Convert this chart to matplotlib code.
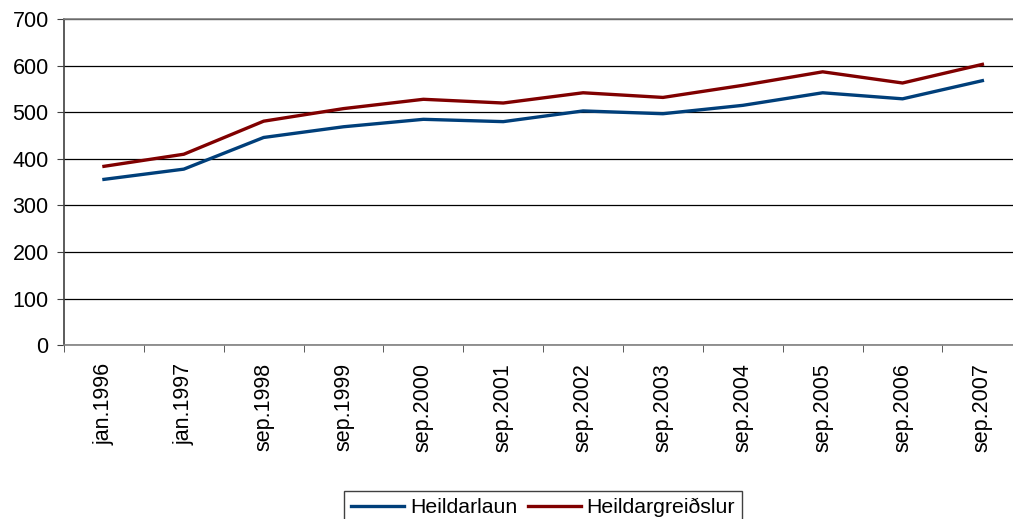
import matplotlib.pyplot as plt

labels = ["jan.1996", "jan.1997", "sep.1998", "sep.1999", "sep.2000", "sep.2001",
          "sep.2002", "sep.2003", "sep.2004", "sep.2005", "sep.2006", "sep.2007"]
heildarlaun = [356, 378, 446, 469, 485, 480, 503, 497, 515, 542, 529, 568]
heildargreidslur = [384, 410, 481, 508, 528, 520, 542, 532, 558, 587, 563, 603]

plt.rcParams["font.family"] = ["Liberation Sans", "DejaVu Sans"]
plt.rcParams["font.size"] = 15.5

fig = plt.figure(figsize=(10.13, 5.19), dpi=100)
ax = fig.add_axes([0.0632, 0.335, 0.946, 0.628])

x = range(len(labels))
ax.plot(x, heildarlaun, color="#003f7a", lw=2.4, label="Heildarlaun")
ax.plot(x, heildargreidslur, color="#800000", lw=2.4, label="Heildargreiðslur")

ax.set_xlim(-0.5, len(labels) - 0.5)
ax.set_ylim(0, 700)
ax.set_yticks(range(0, 701, 100))
ax.yaxis.grid(True, color="black", lw=0.9)
ax.set_axisbelow(True)

ax.set_xticks(x)
ax.set_xticklabels(labels, rotation=90)
ax.set_xticks([i - 0.5 for i in range(len(labels) + 1)], minor=True)
ax.tick_params(axis="x", which="major", length=0, pad=13)
ax.tick_params(axis="x", which="minor", length=5, color="#404040")
ax.tick_params(axis="y", length=5, color="#404040", pad=6)

for side in ["top", "bottom"]:
    ax.spines[side].set_color("#808080")
    ax.spines[side].set_linewidth(1.2)
ax.spines["left"].set_color("#404040")
ax.spines["left"].set_linewidth(1.2)
ax.spines["right"].set_visible(False)

fig.legend(loc="upper center", bbox_to_anchor=(0.536, 1 - 480 / 519), ncol=2, frameon=True,
           fancybox=False, edgecolor="#404040", handlelength=2.5, handletextpad=0.25,
           columnspacing=0.5, borderpad=0.35, fontsize=15.3, framealpha=1)

fig.savefig("out.png", dpi=100)
